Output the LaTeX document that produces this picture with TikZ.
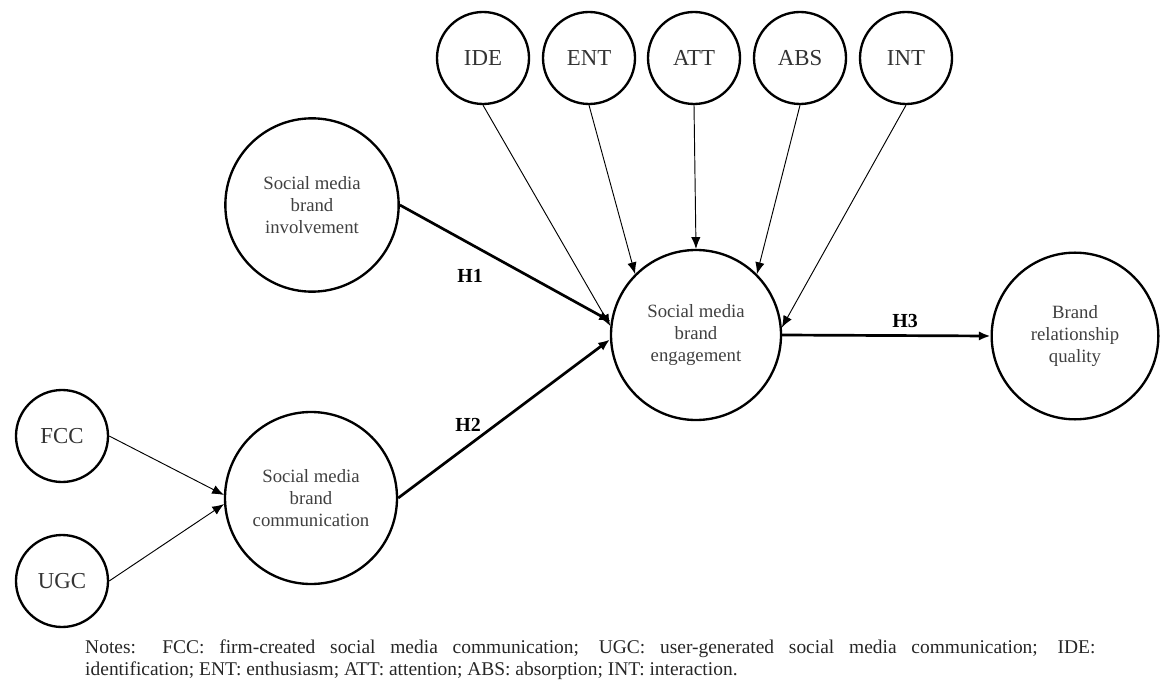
\documentclass[tikz,border=0pt]{standalone}
\usepackage{fontspec}
\setmainfont{Liberation Serif}
\usetikzlibrary{arrows.meta}

\begin{document}
\begin{tikzpicture}[x=0.03cm,y=-0.03cm,
  dim/.style={draw,circle,line width=2pt,inner sep=0pt,minimum size=2.76cm,
    font=\fontsize{19.5}{22}\selectfont,text=black!80},
  construct/.style={draw,circle,line width=2pt,inner sep=0pt,align=center,
    font=\fontsize{16}{18.8}\selectfont,text=black!75},
  thin arrow/.style={line width=0.8pt,-{Latex[length=10pt,width=8pt]}},
  path arrow/.style={line width=2.3pt,-{Latex[length=10pt,width=8pt]}},
  hyp/.style={font=\fontsize{17}{19}\selectfont\bfseries},
  notes/.style={anchor=base west,inner sep=0pt,font=\fontsize{16.6}{20}\selectfont,text=black!85}]
  \useasboundingbox (0,0) rectangle (1161,682);

  % dimensions of engagement
  \node[dim] (ide) at (483,58) {IDE};
  \node[dim] (ent) at (589,58) {ENT};
  \node[dim] (att) at (694,58) {ATT};
  \node[dim] (abs) at (800,58) {ABS};
  \node[dim] (int) at (906,58) {INT};

  % constructs
  \node[construct,minimum size=5.2cm] (inv) at (312,205) {Social media\\brand\\involvement};
  \node[construct,minimum size=5.1cm] (eng) at (696,335) {Social media\\brand\\engagement};
  \node[construct,minimum size=5.0cm] (brq) at (1075,336) {Brand\\relationship\\quality};
  \node[construct,minimum size=5.16cm] (com) at (311,498) {Social media\\brand\\communication};

  % communication sources
  \node[dim] (fcc) at (62,436) {FCC};
  \node[dim] (ugc) at (62,581) {UGC};

  \draw[thin arrow] (ide.south) -- (eng.174);
  \draw[thin arrow] (ent.south) -- (eng.135);
  \draw[thin arrow] (att.south) -- (eng.north);
  \draw[thin arrow] (abs.south) -- (eng.45);
  \draw[thin arrow] (int.south) -- (eng.5);

  \draw[thin arrow] (fcc.east) -- (com.178);
  \draw[thin arrow] (ugc.east) -- (com.184);

  \draw[path arrow] (inv.east) -- (eng.171);
  \draw[path arrow] (com.east) -- (eng.183);
  \draw[path arrow] (eng.east) -- (brq.west);

  \node[hyp] (h1) at (470,276) {H1};
  \node[hyp] (h2) at (468,425) {H2};
  \node[hyp] (h3) at (905,321) {H3};

  \node[notes] (note1) at (85,653) {\makebox[30.3cm][s]{Notes: FCC: firm-created social media communication; UGC: user-generated social media communication; IDE:}};
  \node[notes] (note2) at (85,675) {identification; ENT: enthusiasm; ATT: attention; ABS: absorption; INT: interaction.};
\end{tikzpicture}
\end{document}
